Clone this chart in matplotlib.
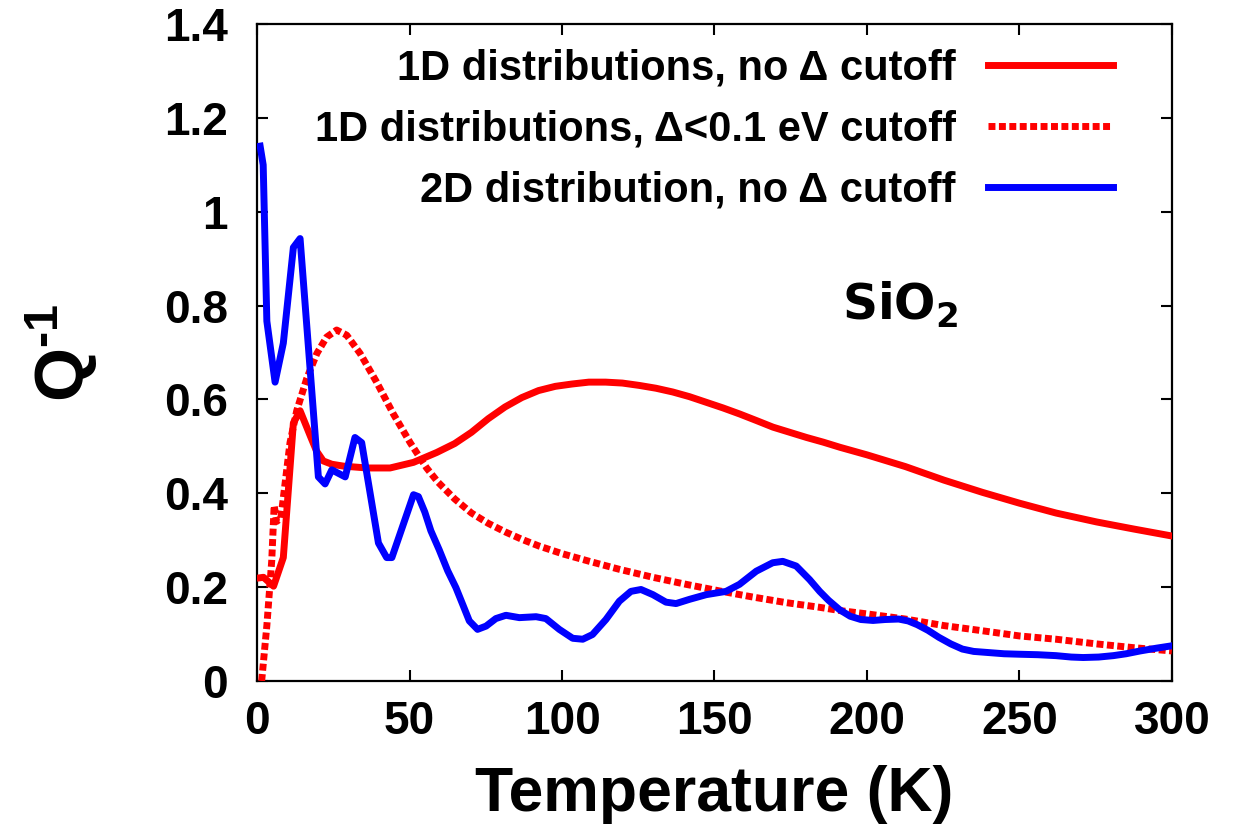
import matplotlib
matplotlib.use("Agg")
import matplotlib.pyplot as plt

# Internal friction Q^-1 versus temperature for SiO2
t_1d = [1.0, 2.1, 5.4, 8.6, 11.9, 14.1, 17.4, 19.5, 21.7, 24.5, 28.3, 36.0, 43.6,
        51.3, 58.9, 64.8, 70.3, 75.8, 81.3, 86.8, 92.3, 97.8, 103.3, 108.8, 114.3,
        119.8, 125.3, 130.8, 136.3, 141.8, 147.3, 152.8, 158.3, 163.8, 169.2, 174.7,
        180.2, 185.7, 191.2, 200.0, 212.6, 225.3, 237.9, 250.0, 262.0, 275.3, 287.4,
        300.0]
q_1d = [0.22, 0.221, 0.202, 0.263, 0.550, 0.576, 0.523, 0.490, 0.469, 0.462, 0.458,
        0.454, 0.454, 0.466, 0.487, 0.506, 0.530, 0.559, 0.584, 0.604, 0.619, 0.628,
        0.633, 0.637, 0.637, 0.635, 0.630, 0.624, 0.616, 0.606, 0.594, 0.582, 0.569,
        0.555, 0.541, 0.530, 0.519, 0.509, 0.498, 0.482, 0.457, 0.428, 0.402, 0.379,
        0.358, 0.339, 0.324, 0.309]

t_1d_cut = [1.5, 3.2, 4.8, 5.6, 6.4, 7.8, 10.8, 13.0, 16.3, 19.6, 22.8, 26.1, 29.4,
            33.8, 39.2, 44.7, 50.2, 55.6, 59.3, 64.8, 70.3, 75.8, 81.3, 86.8, 92.3,
            100.2, 109.0, 118.8, 129.8, 140.7, 151.6, 162.5, 173.5, 184.5, 191.2,
            200.0, 212.6, 225.3, 237.9, 250.0, 262.0, 275.3, 287.4, 300.0]
q_1d_cut = [0.0, 0.118, 0.256, 0.374, 0.340, 0.347, 0.508, 0.576, 0.645, 0.698,
            0.733, 0.748, 0.737, 0.698, 0.637, 0.569, 0.508, 0.454, 0.424, 0.388,
            0.358, 0.336, 0.318, 0.302, 0.288, 0.271, 0.255, 0.238, 0.221, 0.206,
            0.192, 0.179, 0.167, 0.157, 0.150, 0.143, 0.132, 0.118, 0.107, 0.096,
            0.089, 0.079, 0.071, 0.064]

t_2d = [1.0, 2.0, 3.2, 5.9, 8.6, 11.9, 14.1, 20.1, 22.3, 24.5, 28.9, 32.1, 34.3,
        39.8, 42.5, 44.2, 51.3, 52.9, 55.0, 57.0, 59.7, 62.5, 65.2, 67.5, 69.6, 72.3,
        75.1, 78.3, 81.6, 86.0, 91.5, 94.7, 99.1, 103.5, 106.8, 110.0, 114.4, 118.8,
        122.6, 125.9, 129.8, 134.1, 137.4, 141.8, 147.3, 153.8, 158.2, 163.7, 169.1,
        172.4, 176.8, 181.2, 184.5, 187.4, 191.0, 194.5, 198.0, 202.0, 206.0, 210.4,
        213.5, 216.5, 220.0, 223.6, 227.5, 231.3, 235.0, 239.0, 245.0, 250.0, 256.0,
        262.0, 267.0, 270.9, 276.0, 280.8, 285.0, 289.6, 295.0, 300.0]
q_2d = [1.14, 1.10, 0.767, 0.637, 0.72, 0.924, 0.943, 0.435, 0.420, 0.450, 0.435,
        0.519, 0.508, 0.294, 0.263, 0.263, 0.397, 0.393, 0.360, 0.320, 0.280, 0.235,
        0.199, 0.162, 0.128, 0.110, 0.117, 0.133, 0.140, 0.135, 0.137, 0.133, 0.110,
        0.091, 0.089, 0.099, 0.131, 0.170, 0.191, 0.195, 0.184, 0.168, 0.165, 0.174,
        0.184, 0.191, 0.206, 0.234, 0.252, 0.255, 0.245, 0.216, 0.191, 0.172, 0.152,
        0.138, 0.131, 0.129, 0.131, 0.132, 0.128, 0.120, 0.108, 0.093, 0.079, 0.068,
        0.063, 0.061, 0.058, 0.057, 0.056, 0.054, 0.051, 0.050, 0.051, 0.054, 0.058,
        0.064, 0.070, 0.075]

labels = ["1D distributions, no \u0394 cutoff",
          "1D distributions, \u0394<0.1 eV cutoff",
          "2D distribution, no \u0394 cutoff"]
x_ticks = [0, 50, 100, 150, 200, 250, 300]
y_ticks = [0, 0.2, 0.4, 0.6, 0.8, 1.0, 1.2, 1.4]
y_ticklabels = ["0", "0.2", "0.4", "0.6", "0.8", "1", "1.2", "1.4"]

plt.rcParams["font.family"] = ["Liberation Sans", "DejaVu Sans"]
plt.rcParams["font.weight"] = "bold"
plt.rcParams["mathtext.fontset"] = "custom"
plt.rcParams["mathtext.rm"] = "Liberation Sans:bold"
plt.rcParams["mathtext.it"] = "Liberation Sans:bold"
plt.rcParams["mathtext.bf"] = "Liberation Sans:bold"

fig = plt.figure(figsize=(12.48, 8.33), dpi=100)
ax = fig.add_axes([0.206, 0.1825, 0.733, 0.7885])

lw = 5
ax.plot(t_1d, q_1d, color="#ff0000", lw=lw, label=labels[0],
        solid_joinstyle="round", zorder=3)
ax.plot(t_1d_cut, q_1d_cut, color="#ff0000", lw=lw, label=labels[1],
        dashes=(1.0, 0.5), dash_capstyle="butt", zorder=3)
ax.plot(t_2d, q_2d, color="#0000ff", lw=lw, label=labels[2],
        solid_joinstyle="round", zorder=4)

ax.set_xlim(0, 300)
ax.set_ylim(0, 1.4)
ax.set_xticks(x_ticks)
ax.set_yticks(y_ticks)
ax.set_yticklabels(y_ticklabels)
ax.tick_params(direction="in", length=8, width=1.5, top=True, right=True,
               labelsize=33)
ax.tick_params(axis="x", pad=14)
ax.tick_params(axis="y", pad=21)
for sp in ax.spines.values():
    sp.set_linewidth(1.6)

ax.set_xlabel("Temperature (K)", fontsize=45, fontweight="bold", labelpad=15)
ax.set_ylabel(r"Q$^{\text{-1}}$", fontsize=50, fontweight="bold", labelpad=46)

ax.text(0.703, 0.549, r"SiO$_{\mathbf{2}}$", transform=ax.transAxes, fontsize=35,
        fontweight="bold", family="DejaVu Sans", ha="center", va="baseline",
        math_fontfamily="dejavusans")

leg = ax.legend(loc="upper right", bbox_to_anchor=(0.936, 0.963), markerfirst=False,
                frameon=False, fontsize=30, handlelength=3.0, handletextpad=0.79,
                labelspacing=0.5, borderpad=0, borderaxespad=0)
for txt in leg.get_texts():
    txt.set_fontweight("bold")

fig.savefig("out.png", dpi=100)
